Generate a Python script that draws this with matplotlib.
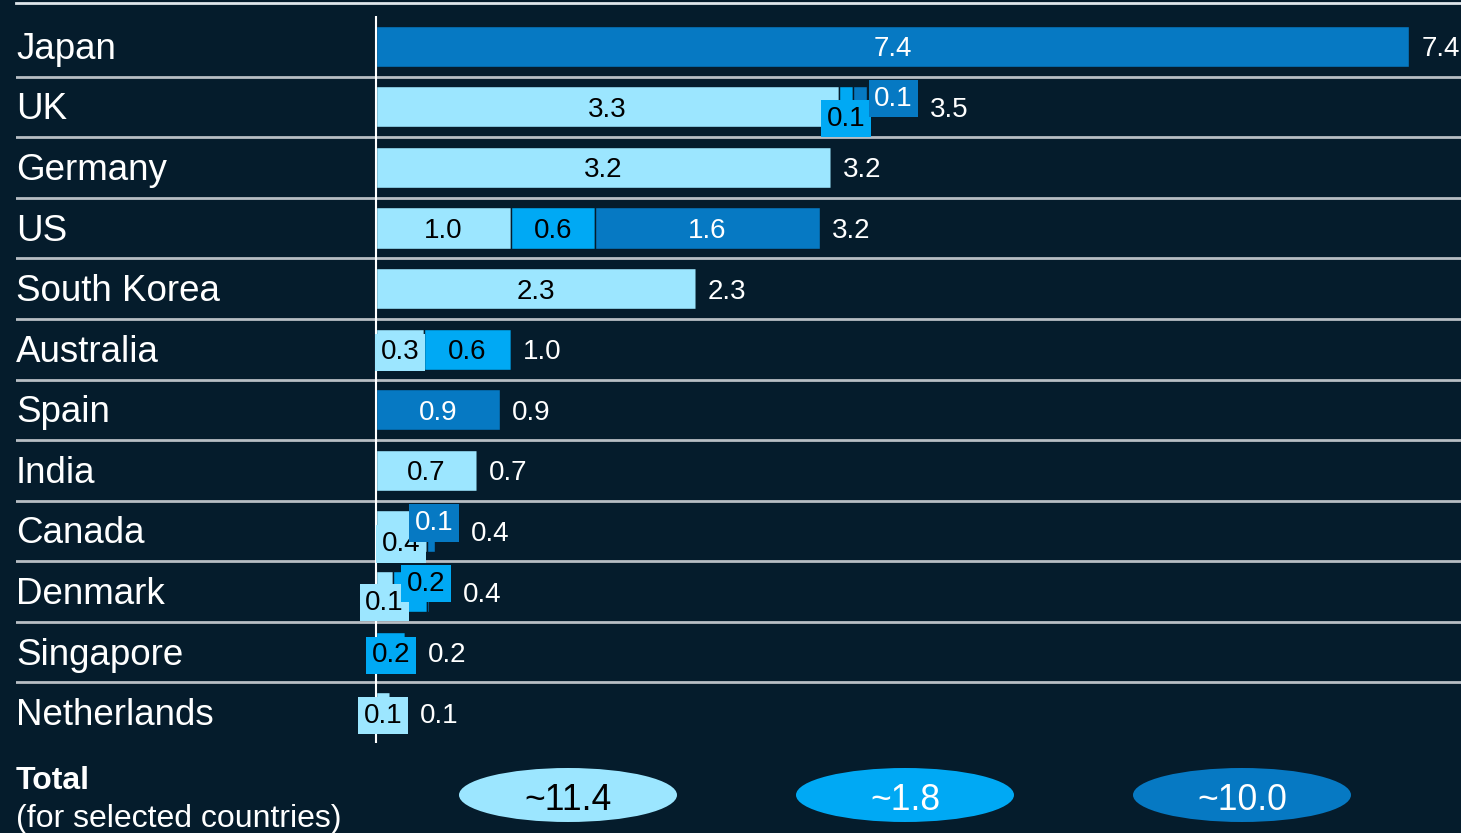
# Capacidad por país, barras horizontales apiladas en tres tramos,
# con el total a la derecha de cada barra y los totales por tramo abajo.

import matplotlib
matplotlib.use("Agg")
import matplotlib.pyplot as plt
from matplotlib.patches import Ellipse
from matplotlib.lines import Line2D
import numpy as np

plt.rcParams['font.family'] = ['Liberation Sans', 'DejaVu Sans']

# Datos
paises = ["Japan", "UK", "Germany", "US", "South Korea", "Australia",
          "Spain", "India", "Canada", "Denmark", "Singapore", "Netherlands"]
claro = [0, 3.3, 3.24, 0.96, 2.28, 0.34, 0, 0.72, 0.36, 0.12, 0, 0.1]
cian = [0, 0.1, 0, 0.6, 0, 0.62, 0, 0, 0, 0.24, 0.21, 0]
oscuro = [7.36, 0.1, 0, 1.6, 0, 0, 0.88, 0, 0.06, 0.02, 0, 0]
series = [claro, cian, oscuro]

# Estilo
fondo = "#051c2c"
colores = ["#9ce6ff", "#00a9f4", "#0679c3"]
color_texto = ["black", "black", "white"]
color_total = ["black", "white", "white"]
gris = "#b8bec4"

# Desplazamiento (px) de las etiquetas de tramos muy cortos
desplaz = {
    ("UK", 1): (0, 9), ("UK", 2): (33, -11),
    ("Canada", 0): (0, 10), ("Canada", 2): (3, -11),
    ("Denmark", 0): (0, 8), ("Denmark", 1): (16, -11),
}
bajada = 3  # px para centrar el texto en la fila

W, H = 1461, 833
escala = 140.4   # px por unidad
x0 = 376         # px donde empieza el eje
fila = (743 - 16) / 12

fig = plt.figure(figsize=(W / 100, H / 100), dpi=100, facecolor=fondo)
ax = fig.add_axes([16 / W, 1 - 743 / H, 1 - 16 / W, (743 - 16) / H])
ax.set_facecolor(fondo)
ax.set_xlim(-(x0 - 16) / escala, (W - x0) / escala)
ax.set_ylim(len(paises) - 0.5, -0.5)
ax.axis('off')

y = np.arange(len(paises))
izq = np.zeros(len(paises))
cajas = {i: [] for i in y}

for k, valores in enumerate(series):
    v = np.array(valores, dtype=float)
    ax.barh(y, v, left=izq, height=0.68, color=colores[k],
            edgecolor=fondo, linewidth=1.0, zorder=2)
    for i in y:
        if v[i] < 0.05:
            continue
        dx, dy = desplaz.get((paises[i], k), (0, 0))
        kw = {}
        if v[i] < 0.4:
            kw['bbox'] = dict(boxstyle='square,pad=0.2', fc=colores[k], ec='none')
        t = ax.annotate(f"{v[i]:.1f}", (izq[i] + v[i] / 2, i),
                        xytext=(dx, -dy - bajada),
                        textcoords='offset pixels', ha='center', va='center',
                        fontsize=20, color=color_texto[k], zorder=4, **kw)
        if 'bbox' in kw:
            cajas[i].append(t)
    izq += v

# Líneas de separación y eje
for i in range(len(paises) - 1):
    ax.axhline(i + 0.5, color=gris, lw=2, zorder=1)
ax.axvline(0, color='white', lw=1.5, zorder=3)
fig.add_artist(Line2D([16 / W, 1], [1 - 3 / H] * 2, color='#dfe5ea', lw=2))

# Nombres de países
for i, p in enumerate(paises):
    ax.text(0, i + bajada / fila, p, transform=ax.get_yaxis_transform(),
            ha='left', va='center', fontsize=26.5, color='white')

# Totales por país, a la derecha de la barra o de la caja más lejana
fig.canvas.draw()
r = fig.canvas.get_renderer()
for i in y:
    fin_px = ax.transData.transform((izq[i], i))[0]
    borde = fin_px
    for t in cajas[i]:
        borde = max(borde, t.get_bbox_patch().get_window_extent(r).x1)
    ax.annotate(f"{izq[i]:.1f}", (izq[i], i), xytext=(borde - fin_px + 12, -bajada),
                textcoords='offset pixels', ha='left', va='center',
                fontsize=20, color='white', zorder=4)

# Totales por tramo (elipses)
ax2 = fig.add_axes([0, 0, 1, 1])
ax2.set_xlim(0, W)
ax2.set_ylim(H, 0)
ax2.axis('off')
centros = [568, 905, 1242]
for k, valores in enumerate(series):
    ax2.add_patch(Ellipse((centros[k], 795), 218, 54, fc=colores[k], ec='none'))
    ax2.text(centros[k], 800, f"~{sum(valores):.1f}", ha='center', va='center',
             fontsize=25.6, color=color_total[k])

fig.text(16 / W, 1 - 781 / H, "Total", fontweight='bold', fontsize=23,
         color='white', va='center', ha='left')
fig.text(16 / W, 1 - 819 / H, "(for selected countries)", fontsize=23,
         color='white', va='center', ha='left')

fig.savefig('out.png', dpi=100, facecolor=fondo)
